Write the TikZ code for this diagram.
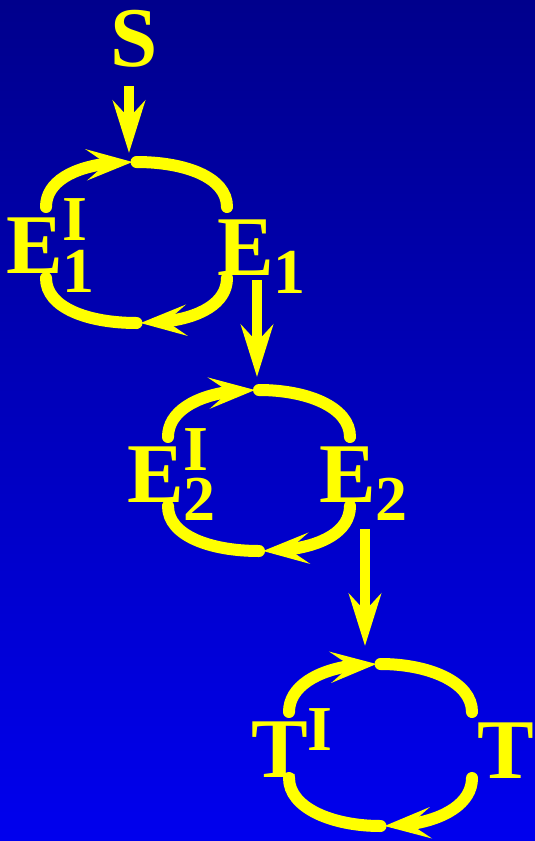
\documentclass[tikz,border=0pt]{standalone}
\usepackage{fontspec}
\setmainfont{Liberation Serif}
\usetikzlibrary{arrows.meta,bending}
\definecolor{bgtop}{RGB}{0,0,140}
\definecolor{bgbottom}{RGB}{0,0,238}
\definecolor{lbl}{RGB}{255,255,0}
\newcommand{\scr}[1]{{\fontsize{64}{64}\selectfont #1}}

\begin{document}
\begin{tikzpicture}[x=1pt,y=-1pt,
    lab/.style={text=lbl,inner sep=0pt,font=\bfseries\fontsize{85}{85}\selectfont},
    cyc/.style={draw=lbl,line width=12pt,line cap=round},
    cyctip/.style={cyc,-{Stealth[length=46pt,width=31pt,inset=20pt,flex]}},
    feed/.style={draw=lbl,line width=10pt,-{Stealth[length=52pt,width=32pt,inset=17pt]}}]
  \useasboundingbox (0,0) rectangle (535,841);
  \shade[top color=bgtop,bottom color=bgbottom] (0,0) rectangle (535,841);

  % labels
  \node[lab,anchor=base] (S) at (134,66) {S};
  \node[lab,anchor=base west] (E1I) at (6,273) {E\scr{\rlap{\raisebox{33pt}{I}}\raisebox{-19pt}{1}}};
  \node[lab,anchor=base west] (E1) at (217,275) {E\scr{\raisebox{-18pt}{1}}};
  \node[lab,anchor=base west] (E2I) at (127,502) {E\scr{\rlap{\raisebox{32pt}{I}}\raisebox{-18pt}{2}}};
  \node[lab,anchor=base west] (E2) at (319,502) {E\scr{\raisebox{-18pt}{2}}};
  \node[lab,anchor=base west] (TI) at (251,777) {T\scr{\raisebox{27pt}{I}}};
  \node[lab,anchor=base west] (T) at (477,778) {T};

  % the three cycles
  \foreach \n/\l/\r/\t/\b/\u/\d in {1/46/227/162/323/207/278,2/168/350/390/551/437/506,3/289/472/664/826/712/778}{
    \pgfmathsetmacro\m{(\l+\r)/2}
    \coordinate (top\n) at (\m,\t);
    \coordinate (bot\n) at (\m,\b);
    \coordinate (nw\n) at (\l,\u);
    \coordinate (ne\n) at (\r,\u);
    \coordinate (se\n) at (\r,\d);
    \coordinate (sw\n) at (\l,\d);
    \draw[cyctip] (nw\n) .. controls +(0,-30) and +(-48,0) .. ([xshift=-4pt]top\n);
    \draw[cyc] (top\n) .. controls +(48,0) and +(0,-30) .. (ne\n);
    \draw[cyctip] (se\n) .. controls +(0,30) and +(48,0) .. ([xshift=4pt]bot\n);
    \draw[cyc] (bot\n) .. controls +(-48,0) and +(0,30) .. (sw\n);
  }

  % feeding arrows
  \coordinate (in1) at (129,153);
  \coordinate (in2) at (257,377);
  \coordinate (in3) at (365,646);
  \draw[feed,shorten <=19pt] (S.south -| in1) -- (in1);
  \draw[feed,shorten <=5pt] (E1.base -| in2) -- (in2);
  \draw[feed,shorten <=27pt] (E2.base -| in3) -- (in3);
\end{tikzpicture}
\end{document}
